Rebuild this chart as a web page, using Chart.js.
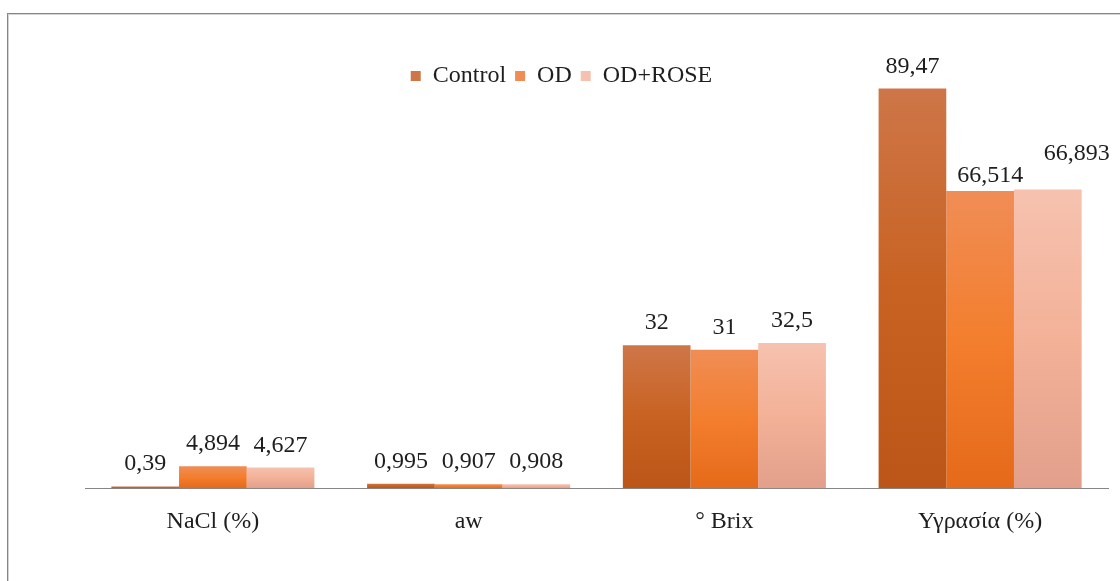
<!DOCTYPE html>
<html>
<head>
<meta charset="utf-8">
<script src="https://cdn.jsdelivr.net/npm/chart.js@4.4.1/dist/chart.umd.min.js"></script>
<style>
  html, body { margin: 0; padding: 0; background: #fff; }
  #wrap { width: 1120px; height: 581px; }
</style>
</head>
<body>
<div id="wrap"><canvas id="barChart"></canvas></div>
<script>
// categories and measured values per treatment
const categories = ["NaCl (%)", "aw", "° Brix", "Υγρασία (%)"];
const seriesNames = ["Control", "OD", "OD+ROSE"];
const controlValues = [0.39, 0.995, 32, 89.47];
const odValues = [4.894, 0.907, 31, 66.514];
const odRoseValues = [4.627, 0.908, 32.5, 66.893];

// gradient stops per series: top, middle, bottom
const fills = [
    ["#CE7648", "#C86222", "#BC5618"],
    ["#F08D56", "#F37E2D", "#E56A1A"],
    ["#F6C2AF", "#F3B198", "#E2A08C"]
];

// value labels that sit off their default place (dataset:index -> [dx, dy])
const labelNudge = { "1:3": [10, 7], "2:3": [29, -13] };

const FONT = "'Liberation Serif', 'Times New Roman', serif";
const FONT_SIZE = 24;

function barFill(stops) {
    return (ctx) => {
        const chart = ctx.chart;
        if (!chart.chartArea || ctx.type !== "data") return stops[1];
        const y = chart.scales.y;
        const top = y.getPixelForValue(ctx.raw);
        const base = y.getPixelForValue(0);
        if (base - top < 1) return stops[1];
        const g = chart.ctx.createLinearGradient(0, top, 0, base);
        g.addColorStop(0, stops[0]);
        g.addColorStop(0.5, stops[1]);
        g.addColorStop(1, stops[2]);
        return g;
    };
}

// grey frame round the whole chart
const frame = {
    id: "frame",
    beforeDraw(chart) {
        const c = chart.ctx;
        c.save();
        c.strokeStyle = "#868686";
        c.lineWidth = 1;
        c.strokeRect(7.5, 13.5, chart.width + 20, chart.height + 20);
        c.strokeStyle = "#d4d4d4";
        c.strokeRect(8.5, 14.5, chart.width + 20, chart.height + 20);
        c.restore();
    }
};

// move the legend down over the plot and a little left
const legendPlace = {
    id: "legendPlace",
    afterLayout(chart) {
        const lg = chart.legend;
        if (!lg) return;
        const dx = 561.5 - (lg.left + lg.right) / 2;
        const pad = lg.options.labels.padding;
        const dy = 76 - (lg.top + pad + FONT_SIZE / 2);
        lg.left += dx; lg.right += dx;
        lg.top += dy; lg.bottom += dy;
    }
};

// numbers above the bars, decimal comma
const valueLabels = {
    id: "valueLabels",
    afterDatasetsDraw(chart) {
        const c = chart.ctx;
        c.save();
        c.font = FONT_SIZE + "px " + FONT;
        c.fillStyle = "#1e1e1e";
        c.textAlign = "center";
        c.textBaseline = "alphabetic";
        chart.data.datasets.forEach((ds, di) => {
            chart.getDatasetMeta(di).data.forEach((bar, i) => {
                const n = labelNudge[di + ":" + i] || [0, 0];
                const txt = String(ds.data[i]).replace(".", ",");
                c.fillText(txt, bar.x + n[0], bar.y - 16 + n[1]);
            });
        });
        c.restore();
    }
};

const allValues = [controlValues, odValues, odRoseValues];

new Chart(document.getElementById("barChart"), {
    type: "bar",
    data: {
        labels: categories,
        datasets: seriesNames.map((name, i) => ({
            label: name,
            data: allValues[i],
            backgroundColor: barFill(fills[i]),
            borderWidth: 0,
            categoryPercentage: 0.794,
            barPercentage: 1
        }))
    },
    options: {
        responsive: true,
        maintainAspectRatio: false,
        animation: false,
        layout: { padding: { left: 85, right: 12, top: 3, bottom: 26 } },
        scales: {
            x: {
                grid: { display: false, drawTicks: false },
                border: { display: true, color: "#868686", width: 1 },
                ticks: { color: "#1e1e1e", padding: 19, font: { family: FONT, size: FONT_SIZE } }
            },
            y: { display: false, min: 0, max: 99 }
        },
        plugins: {
            legend: {
                position: "top",
                labels: {
                    boxWidth: 10,
                    boxHeight: 10,
                    padding: 9,
                    color: "#1e1e1e",
                    font: { family: FONT, size: FONT_SIZE }
                }
            },
            tooltip: { enabled: false }
        }
    },
    plugins: [frame, legendPlace, valueLabels]
});
</script>
</body>
</html>
